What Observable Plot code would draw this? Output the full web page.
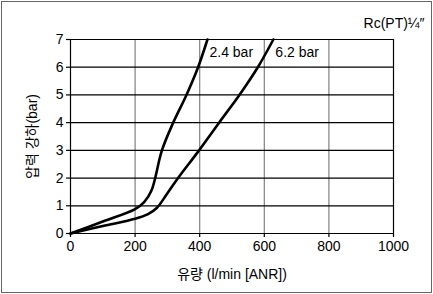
<!DOCTYPE html>
<html><head><meta charset="utf-8">
<script src="https://cdn.jsdelivr.net/npm/d3@7"></script>
<script src="https://cdn.jsdelivr.net/npm/@observablehq/plot@0.6"></script>
<style>
body{margin:0;background:#fff;}
#wrap{position:relative;width:433px;height:294px;overflow:hidden}
#frame{position:absolute;left:1px;top:1px;width:429px;height:290px;border:1px solid #666;pointer-events:none}
</style></head><body><div id="wrap"><div id="frame"></div></div>
<script>
// data
const flow24 = [0, 100, 200, 228, 251, 283, 318, 359, 395, 424];
const drop24 = [0, 0.43, 0.88, 1.13, 1.56, 3.0, 4.0, 5.0, 6.0, 7.0];
const flow62 = [0, 100, 200, 240, 267, 300, 333, 398, 460, 523, 580, 628];
const drop62 = [0, 0.27, 0.53, 0.7, 0.92, 1.45, 2.0, 3.0, 4.0, 5.0, 6.0, 7.0];
const seriesNames = ["2.4 bar", "6.2 bar"];
const xTicks = [0, 200, 400, 600, 800, 1000];
const yTicks = [0, 1, 2, 3, 4, 5, 6, 7];
const portLabel = "Rc(PT)¼\u2033";
const xLabel = "유량 (l/min [ANR])";
const yLabel = "압력 강하(bar)";

const s24 = flow24.map((f, i) => ({flow: f, drop: drop24[i], name: seriesNames[0]}));
const s62 = flow62.map((f, i) => ({flow: f, drop: drop62[i], name: seriesNames[1]}));
const ends = [s24[s24.length - 1], s62[s62.length - 1]];

const chart = Plot.plot({
  width: 433, height: 294,
  marginTop: 39, marginBottom: 61, marginLeft: 70, marginRight: 40,
  style: {fontFamily: "'Liberation Sans', Arial, 'Noto Sans CJK KR', sans-serif", fontSize: "14px", color: "#000", background: "transparent"},
  x: {domain: [0, 1000]},
  y: {domain: [0, 7]},
  marks: [
    Plot.ruleX(xTicks.slice(1, -1), {stroke: "#808080", strokeWidth: 1.2}),
    Plot.ruleX([xTicks[xTicks.length - 1]], {stroke: "#000", strokeWidth: 1.2}),
    Plot.ruleY(yTicks.slice(1), {stroke: "#000", strokeWidth: 1.2}),
    Plot.ruleX([0], {stroke: "#000", strokeWidth: 1.2}),
    Plot.ruleY([0], {stroke: "#000", strokeWidth: 1.2}),
    Plot.axisX(xTicks, {tickSize: 4, tickPadding: 4, tickFormat: d => String(d), label: xLabel, labelAnchor: "center", labelArrow: "none", labelOffset: 45, strokeWidth: 1.2}),
    Plot.axisY(yTicks, {tickSize: 4, tickPadding: 3, tickFormat: d => String(d), label: yLabel, labelAnchor: "center", labelArrow: "none", labelOffset: 43, strokeWidth: 1.2}),
    Plot.line(s24, {x: "flow", y: "drop", stroke: "#000", strokeWidth: 2.6, curve: "catmull-rom"}),
    Plot.line(s62, {x: "flow", y: "drop", stroke: "#000", strokeWidth: 2.6, curve: "catmull-rom"}),
    Plot.text(ends, {x: "flow", y: "drop", text: "name", textAnchor: "start", dx: 2, dy: 13, fontSize: 14, fill: "#000"}),
    Plot.text([portLabel], {frameAnchor: "top-right", textAnchor: "end", dx: 31, dy: -21, fontSize: 14, fill: "#000"})
  ]
});
document.getElementById("wrap").prepend(chart);
</script></body></html>
